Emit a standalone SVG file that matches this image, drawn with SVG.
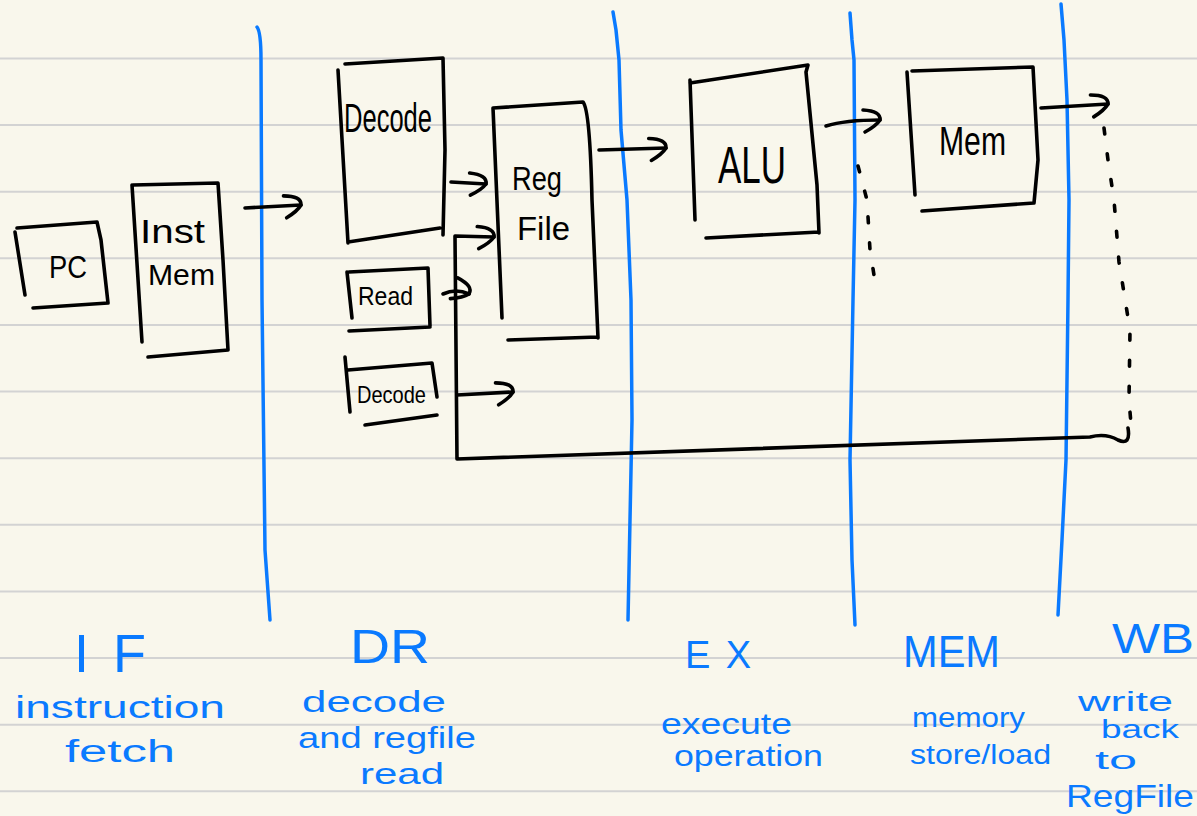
<svg xmlns="http://www.w3.org/2000/svg" width="1197" height="816" viewBox="0 0 1197 816">
<style>
.rule{stroke:#d3d3d3;stroke-width:2;fill:none}
.stage{stroke:#0a7aff;stroke-width:3.5;fill:none;stroke-linecap:round;stroke-linejoin:round}
.ink{stroke:#000;stroke-width:3.6;fill:none;stroke-linecap:round;stroke-linejoin:round}
.dash{stroke:#000;stroke-width:3.6;fill:none;stroke-linecap:round;stroke-dasharray:6 20}
.lbl{font-family:"Liberation Sans","DejaVu Sans",sans-serif;fill:#000}
.blue{font-family:"Liberation Sans","DejaVu Sans",sans-serif;fill:#0a7aff}
</style>
<defs>
<marker id="hook" viewBox="-25 -15 30 30" refX="0" refY="0" markerWidth="30" markerHeight="30" markerUnits="userSpaceOnUse" orient="auto" overflow="visible">
<path d="M-17,-10 Q1,-9 0,0 Q-4,6 -15,12" stroke="#000" stroke-width="3.6" fill="none" stroke-linecap="round" stroke-linejoin="round"/>
</marker>
</defs>
<rect x="0" y="0" width="1197" height="816" fill="#f9f7ec"/>
<g id="paper">
<line class="rule" x1="0" y1="58.5" x2="1197" y2="58.5"/>
<line class="rule" x1="0" y1="125.1" x2="1197" y2="125.1"/>
<line class="rule" x1="0" y1="191.7" x2="1197" y2="191.7"/>
<line class="rule" x1="0" y1="258.3" x2="1197" y2="258.3"/>
<line class="rule" x1="0" y1="325" x2="1197" y2="325"/>
<line class="rule" x1="0" y1="391.6" x2="1197" y2="391.6"/>
<line class="rule" x1="0" y1="458.2" x2="1197" y2="458.2"/>
<line class="rule" x1="0" y1="524.8" x2="1197" y2="524.8"/>
<line class="rule" x1="0" y1="591.4" x2="1197" y2="591.4"/>
<line class="rule" x1="0" y1="658" x2="1197" y2="658"/>
<line class="rule" x1="0" y1="724.7" x2="1197" y2="724.7"/>
<line class="rule" x1="0" y1="791.3" x2="1197" y2="791.3"/>
</g>
<g id="stage-dividers">
<path class="stage" d="M257,27 Q261,32 261,60 L262,300 L265,550 L270,620"/>
<path class="stage" d="M613,12 L616,30 L619,60 L621,130 L627,200 L631,300 L632,420 L630,520 L628,620"/>
<path class="stage" d="M850,13 L852,40 L854,60 L855,200 L853,300 L850,460 L852,560 L855,625"/>
<path class="stage" d="M1061,4 L1064,40 L1067,100 L1069,200 L1068,300 L1066,460 L1062,540 L1058,615"/>
</g>
<g id="node-pc">
<path class="ink" d="M15,232 L25,295 M17,228 L97,222 L101,240 L108,303 M33,308 L108,303"/>
<text class="lbl" x="49" y="278" font-size="32" textLength="38" lengthAdjust="spacingAndGlyphs">PC</text>
</g>
<g id="node-instmem">
<path class="ink" d="M132,185 L142,342 M133,185 L218,183 L223,260 L228,350 M148,357 L228,350"/>
<text class="lbl" x="140" y="243" font-size="34" textLength="65" lengthAdjust="spacingAndGlyphs">Inst</text>
<text class="lbl" x="148" y="285" font-size="30" textLength="67" lengthAdjust="spacingAndGlyphs">Mem</text>
</g>
<g id="node-decode">
<path class="ink" d="M338,70 L348,243 M345,64 L443,58 L445,150 L443,235 M348,242 L440,228"/>
<text class="lbl" x="344" y="132" font-size="40" textLength="88" lengthAdjust="spacingAndGlyphs">Decode</text>
</g>
<g id="node-read">
<path class="ink" d="M347,272 L352,318 M349,272 L428,268 L430,326 M349,331 L430,327"/>
<text class="lbl" x="358" y="305" font-size="25" textLength="55" lengthAdjust="spacingAndGlyphs">Read</text>
</g>
<g id="node-decode-small">
<path class="ink" d="M345,357 L350,412 M348,370 L432,363 L437,397 M365,425 L437,415"/>
<text class="lbl" x="357" y="403" font-size="24" textLength="69" lengthAdjust="spacingAndGlyphs">Decode</text>
</g>
<g id="node-regfile">
<path class="ink" d="M493,108 L502,318 M493,108 L583,102 Q590,110 592,200 L598,338 M508,340 L598,337"/>
<text class="lbl" x="512" y="190" font-size="34" textLength="50" lengthAdjust="spacingAndGlyphs">Reg</text>
<text class="lbl" x="517" y="240" font-size="34" textLength="53" lengthAdjust="spacingAndGlyphs">File</text>
</g>
<g id="node-alu">
<path class="ink" d="M690,80 L695,220 M690,83 L808,65 L806,72 L817,185 L819,233 M706,238 L819,232"/>
<text class="lbl" x="718" y="183" font-size="52" textLength="68" lengthAdjust="spacingAndGlyphs">ALU</text>
</g>
<g id="node-mem">
<path class="ink" d="M907,72 L915,195 M912,71 L1033,67 L1038,160 L1034,203 M922,211 L1034,203"/>
<text class="lbl" x="939" y="155" font-size="40" textLength="67" lengthAdjust="spacingAndGlyphs">Mem</text>
</g>
<g id="connectors">
<path class="ink" d="M245,208 L301,205" marker-end="url(#hook)"/>
<path class="ink" d="M451,182 L486,184" marker-end="url(#hook)"/>
<path class="ink" d="M443,294 Q456,288 469,294" marker-end="url(#hook)"/>
<path class="ink" d="M457,395 L513,392" marker-end="url(#hook)"/>
<path class="ink" d="M1128,428 Q1131,446 1118,440 Q1106,433 1090,437 L457,459 L455,236 L494,237" marker-end="url(#hook)"/>
<path class="dash" d="M1104,128 L1108,160 L1114,200 L1119,262 L1130,330 L1129,400 L1131,424"/>
<path class="ink" d="M599,150 L666,148" marker-end="url(#hook)"/>
<path class="ink" d="M826,126 Q845,120 880,120" marker-end="url(#hook)"/>
<path class="dash" d="M858,166 L867,200 L870,250 L874,275"/>
<path class="ink" d="M1041,108 L1108,104" marker-end="url(#hook)"/>
</g>
<g id="stage-labels">
<text class="blue" x="74" y="672" font-size="54" textLength="72" lengthAdjust="spacing">IF</text>
<text class="blue" x="15" y="718" font-size="31" textLength="210" lengthAdjust="spacingAndGlyphs">instruction</text>
<text class="blue" x="65" y="762" font-size="31" textLength="110" lengthAdjust="spacingAndGlyphs">fetch</text>
<text class="blue" x="350" y="663" font-size="48" textLength="80" lengthAdjust="spacingAndGlyphs">DR</text>
<text class="blue" x="302" y="712" font-size="30" textLength="144" lengthAdjust="spacingAndGlyphs">decode</text>
<text class="blue" x="298" y="748" font-size="30" textLength="178" lengthAdjust="spacingAndGlyphs">and regfile</text>
<text class="blue" x="360" y="784" font-size="29" textLength="84" lengthAdjust="spacingAndGlyphs">read</text>
<text class="blue" x="685" y="668" font-size="38" textLength="66" lengthAdjust="spacing">EX</text>
<text class="blue" x="661" y="734" font-size="30" textLength="131" lengthAdjust="spacingAndGlyphs">execute</text>
<text class="blue" x="674" y="766" font-size="30" textLength="149" lengthAdjust="spacingAndGlyphs">operation</text>
<text class="blue" x="903" y="667" font-size="44" textLength="97" lengthAdjust="spacingAndGlyphs">MEM</text>
<text class="blue" x="912" y="727" font-size="27" textLength="113" lengthAdjust="spacingAndGlyphs">memory</text>
<text class="blue" x="910" y="764" font-size="27" textLength="141" lengthAdjust="spacingAndGlyphs">store/load</text>
<text class="blue" x="1112" y="653" font-size="42" textLength="82" lengthAdjust="spacingAndGlyphs">WB</text>
<text class="blue" x="1078" y="711" font-size="27" textLength="95" lengthAdjust="spacingAndGlyphs">write</text>
<text class="blue" x="1101" y="738" font-size="26" textLength="78" lengthAdjust="spacingAndGlyphs">back</text>
<text class="blue" x="1095" y="769" font-size="26" textLength="42" lengthAdjust="spacingAndGlyphs">to</text>
<text class="blue" x="1066" y="807" font-size="32" textLength="128" lengthAdjust="spacingAndGlyphs">RegFile</text>
</g>
</svg>
